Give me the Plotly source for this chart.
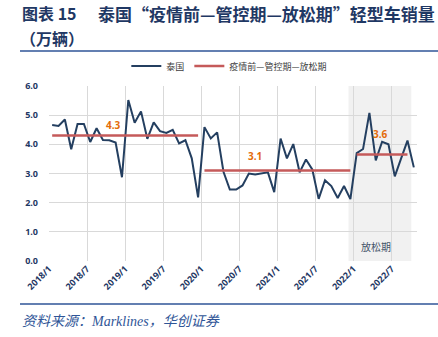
import plotly.graph_objects as go

# ---- data ----
months = [f"{y}/{m}" for y in range(2018, 2023) for m in range(1, 13)][:58]
sales = [4.66, 4.63, 4.85, 3.83, 4.70, 4.70, 4.08, 4.55, 4.15, 4.14, 4.06, 2.87,
         5.52, 4.74, 5.13, 4.19, 4.75, 4.45, 4.39, 4.50, 4.03, 4.14, 3.52, 2.18,
         4.59, 4.20, 4.41, 3.06, 2.45, 2.45, 2.59, 3.00, 2.97, 3.00, 3.04, 2.36,
         4.20, 3.52, 4.01, 3.04, 3.48, 3.14, 2.13, 2.77, 2.57, 2.16, 2.57, 2.12,
         3.70, 3.84, 5.08, 3.45, 4.09, 4.00, 2.90, 3.52, 4.13, 3.21]
period_start = ["2018/1", "2020/1", "2022/1"]
period_end = ["2019/12", "2021/12", "2022/9"]
period_avg = [4.3, 3.1, 3.65]
period_label = ["4.3", "3.1", "3.6"]
tick_labels = ["2018/1", "2018/7", "2019/1", "2019/7", "2020/1", "2020/7",
               "2021/1", "2021/7", "2022/1", "2022/7"]
y_ticks = [0, 1, 2, 3, 4, 5, 6]

idx = list(range(len(months)))
W, H = 438, 337
L, R, T, B = 49, 21, 86, 76
pw, ph = W - L - R, H - T - B


def px(x):
    return (x - L) / pw


def py(y):
    return (H - B - y) / ph


navy = "#1F3864"
fig = go.Figure()

fig.add_trace(go.Scatter(x=idx, y=sales, mode="lines", name="泰国",
                         line=dict(color="#243F60", width=2)))

for k, (s, e, v) in enumerate(zip(period_start, period_end, period_avg)):
    i0, i1 = months.index(s), months.index(e)
    xs = idx[i0:i1 + 1]
    fig.add_trace(go.Scatter(x=xs, y=[v] * len(xs), mode="lines",
                             name="疫情前—管控期—放松期", legendgroup="avg",
                             showlegend=(k == 0),
                             line=dict(color="#C55A5A", width=2.5)))

# avg labels (offsets from period start, in months / value units)
lab_off = [(9.6, 0.38), (7.9, 0.51), (3.8, 0.72)]
for k, (s, v, t) in enumerate(zip(period_start, period_avg, period_label)):
    i0 = months.index(s)
    fig.add_annotation(x=i0 + lab_off[k][0], y=v + lab_off[k][1], text=t,
                       showarrow=False,
                       font=dict(size=10, color="#E46C0A", family="Open Sans", weight="bold"))

# shaded "放松期" region
s_idx = months.index(period_start[2])
fig.add_shape(type="rect", xref="x", yref="paper", x0=s_idx - 1.3, x1=s_idx + 8.6,
              y0=0, y1=1, fillcolor="#F1F1F1", line_width=0, layer="between")
fig.add_annotation(xref="x", yref="paper", x=s_idx + 3.0, y=py(246), text="放松期",
                   showarrow=False, yanchor="middle",
                   font=dict(size=10, color="#44546A", family="Noto Sans CJK SC"))

# title
tfont = dict(size=17, color=navy, family="Noto Sans CJK SC", weight="bold")
fig.add_annotation(xref="paper", yref="paper", x=px(20), y=py(13), xanchor="left",
                   yanchor="middle", text="图表 15", showarrow=False,
                   font=dict(size=16, color=navy, family="Noto Sans CJK SC", weight="bold"))
fig.add_annotation(xref="paper", yref="paper", x=px(96), y=py(13), xanchor="left",
                   yanchor="middle", text="泰国“疫情前—管控期—放松期”轻型车销量",
                   showarrow=False, font=tfont)
fig.add_annotation(xref="paper", yref="paper", x=px(18), y=py(38), xanchor="left",
                   yanchor="middle", text="（万辆）", showarrow=False,
                   font=dict(size=16, color=navy, family="Noto Sans CJK SC", weight="bold"))

# rules
for yy in (51, 304):
    fig.add_shape(type="line", xref="paper", yref="paper", x0=px(20), x1=px(438),
                  y0=py(yy), y1=py(yy), line=dict(color="#2F5597", width=1.5))

# source
fig.add_annotation(xref="paper", yref="paper", x=px(20), y=py(321), xanchor="left",
                   yanchor="middle", text="资料来源：Marklines，华创证券", showarrow=False,
                   font=dict(size=14, color="#2F5597", style="italic",
                             family="Liberation Serif, Noto Sans CJK SC"))

fig.update_layout(
    width=W, height=H,
    margin=dict(l=L, r=R, t=T, b=B),
    paper_bgcolor="white", plot_bgcolor="white",
    legend=dict(orientation="h", x=0.49, xanchor="center", y=py(66), yanchor="middle",
                font=dict(size=9, color="#404040", family="Noto Sans CJK SC"),
                bgcolor="rgba(0,0,0,0)", itemwidth=30),
    xaxis=dict(range=[-0.5, len(months) - 0.5],
               tickvals=[months.index(t) - 0.5 for t in tick_labels],
               ticktext=tick_labels, tickangle=-45,
               showgrid=True, gridcolor="#D9D9D9", gridwidth=1,
               zeroline=False, showline=False,
               tickfont=dict(size=9, color=navy, family="Open Sans", weight="bold")),
    yaxis=dict(range=[0, 6], tickvals=y_ticks, tickformat=".1f",
               showgrid=True, gridcolor="#D9D9D9", gridwidth=1,
               zeroline=False, showline=False, ticklabelstandoff=10,
               tickfont=dict(size=9, color=navy, family="Open Sans", weight="bold")),
)

fig.write_html("out.html")
